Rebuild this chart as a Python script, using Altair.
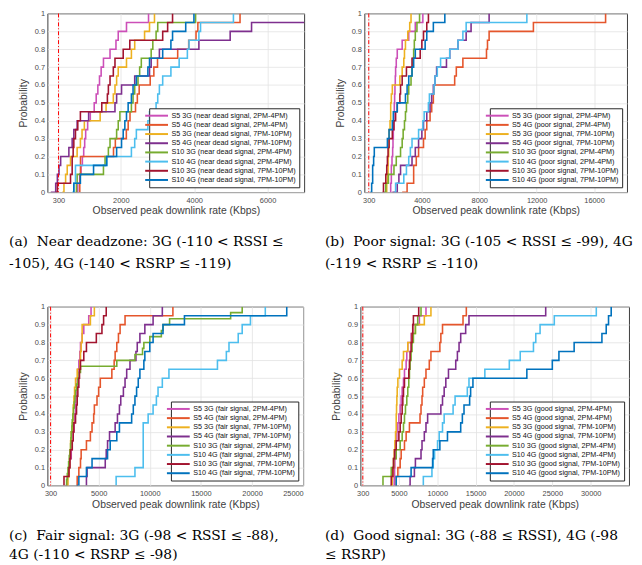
import altair as alt
import pandas as pd

# ---------------- data ----------------
levels = [0, 0.05, 0.1, 0.15, 0.2, 0.25, 0.3, 0.35, 0.4, 0.45, 0.5,
          0.55, 0.6, 0.65, 0.7, 0.75, 0.8, 0.85, 0.9, 0.95, 1]
levels_c_s10_3g_2 = [0, 0.033, 0.067, 0.1, 0.133, 0.167, 0.2, 0.233, 0.267, 0.3,
                     0.333, 0.367, 0.4, 0.433, 0.467, 0.5, 0.533, 0.567, 0.6, 0.633,
                     0.667, 0.7, 0.733, 0.767, 0.8, 0.833, 0.867, 0.9, 0.933, 0.967, 1]

series_names = ["S5 3G", "S5 4G", "S5 3G", "S5 4G", "S10 3G", "S10 4G", "S10 3G", "S10 4G"]
series_periods = ["2PM-4PM", "2PM-4PM", "7PM-10PM", "7PM-10PM",
                  "2PM-4PM", "2PM-4PM", "7PM-10PM", "7PM-10PM"]
series_colors = ["#CC4FB8", "#E5562C", "#EDB120", "#7E2F8E",
                 "#77AC30", "#4DBEEE", "#A2142F", "#0072BD"]

yticks = [0, 0.1, 0.2, 0.3, 0.4, 0.5, 0.6, 0.7, 0.8, 0.9, 1]
threshold = [300]

# (a) near dead signal
a_s5_3g_2 = [790, 826, 879, 915, 951, 987, 1014, 1041, 1095, 1167, 1274, 1328, 1373, 1418, 1463, 1526, 1705, 1867, 1929, 2154, 2755]
a_s5_4g_2 = [880, 880, 890, 900, 900, 1800, 1850, 2150, 2200, 2250, 2400, 2450, 2500, 2800, 2900, 3000, 3550, 3850, 4050, 4100, 5250]
a_s5_3g_7 = [404, 449, 494, 538, 628, 808, 897, 942, 1005, 1436, 1597, 1795, 1840, 1885, 1929, 2154, 2288, 2378, 2647, 2782, 2917]
a_s5_4g_7 = [90, 224, 269, 314, 359, 583, 673, 718, 808, 1122, 1840, 1885, 2019, 2378, 2782, 2827, 3051, 4128, 4981, 5564, 7600]
a_s10_3g_2 = [763, 790, 808, 1526, 1570, 1660, 1705, 1885, 1929, 1974, 2288, 2333, 2378, 2468, 2513, 2558, 2827, 2872, 2961, 3006, 4038]
a_s10_4g_2 = [673, 718, 763, 763, 1615, 2288, 2378, 2423, 2737, 2782, 2961, 3006, 3051, 3141, 3365, 3590, 3814, 3859, 4128, 4173, 5070]
a_s10_3g_7 = [224, 269, 628, 673, 673, 700, 718, 763, 826, 897, 1480, 1633, 1660, 1705, 1795, 1840, 2064, 2244, 3141, 3276, 3410]
a_s10_4g_7 = [700, 718, 897, 1256, 1615, 1885, 2019, 2064, 2109, 2154, 2199, 2288, 2333, 2423, 2737, 2782, 3141, 3365, 3410, 3769, 3993]

# (b) poor signal
b_s5_3g_2 = [1783, 1829, 1874, 1874, 1920, 1966, 1989, 2012, 2034, 2057, 2080, 2103, 2126, 2149, 2172, 2217, 2286, 2629, 3086, 3543, 4069]
b_s5_4g_2 = [2629, 2972, 3429, 3429, 3612, 3772, 4115, 4229, 4343, 4572, 4686, 4801, 4846, 6287, 6401, 6858, 8504, 8573, 8687, 11773, 16802]
b_s5_3g_7 = [1486, 1554, 1600, 1646, 1646, 1692, 1715, 1715, 1783, 1829, 1829, 1874, 1943, 2469, 2629, 2743, 2789, 2858, 3018, 3155, 3246]
b_s5_4g_7 = [1943, 2286, 2400, 2515, 3315, 3543, 3772, 4001, 4115, 4343, 4572, 4686, 4801, 4915, 5029, 5715, 5944, 6515, 7087, 7430, 8687]
b_s10_3g_2 = [1372, 1486, 1669, 2057, 2217, 2515, 2629, 2697, 2789, 2858, 2926, 3018, 3086, 3246, 3315, 3383, 3429, 3475, 3543, 3658, 3840]
b_s10_4g_2 = [2057, 2172, 2743, 2926, 3086, 3200, 3315, 3772, 4069, 4161, 4458, 4526, 4846, 4915, 5075, 5304, 5944, 6515, 6858, 7087, 11316]
b_s10_3g_7 = [1257, 1326, 1486, 1554, 1600, 1646, 1715, 1943, 2057, 2172, 2286, 2469, 2515, 2629, 2926, 3315, 3886, 4001, 4115, 4343, 4458]
b_s10_4g_7 = [411, 503, 572, 572, 640, 686, 1600, 1715, 1943, 2012, 2286, 2858, 2972, 3086, 3315, 3429, 3543, 4229, 4343, 4801, 5601]

# (c) fair signal
c_s5_3g_2 = [1774, 1936, 2097, 2194, 2323, 2420, 2516, 2581, 2645, 2742, 2774, 2839, 2903, 2968, 3065, 3161, 3226, 3387, 3549, 4033, 4258]
c_s5_4g_2 = [2839, 2903, 3065, 3226, 3290, 3807, 4194, 4355, 4516, 4581, 4839, 5000, 5162, 6291, 6517, 6613, 6775, 6936, 7097, 7581, 12259]
c_s5_3g_7 = [1936, 2000, 2097, 2161, 2194, 2258, 2323, 2420, 2484, 2516, 2581, 2645, 2742, 2903, 3161, 3226, 3290, 3387, 3387, 4194, 4581]
c_s5_4g_7 = [3807, 3807, 3871, 5646, 5742, 5871, 6065, 6613, 6839, 7033, 7162, 7420, 7581, 7742, 8065, 8646, 8775, 9033, 9517, 10323, 11226]
c_s10_3g_2 = [1774, 1871, 1936, 2000, 2065, 2129, 2194, 2258, 2290, 2323, 2387, 2420, 2484, 2548, 2613, 2678,
              2742, 2839, 2968, 3097, 3226, 6775, 8549, 9291, 9420, 10001, 11130, 11291, 11936, 17904, 19033]
c_s10_4g_2 = [6710, 6710, 8549, 9356, 9356, 9356, 9356, 9356, 9839, 10323, 10646, 10807, 11226, 11872, 16614, 17485, 17743, 18646, 19033, 19840, 21292]
c_s10_3g_7 = [1613, 1613, 2097, 2194, 2258, 2420, 2516, 2581, 2742, 2839, 2903, 2968, 3065, 3129, 3226, 3549, 3807, 4774, 5323, 5484, 5742]
c_s10_4g_7 = [2839, 3065, 3807, 4355, 5871, 6129, 6775, 7033, 8227, 8388, 8549, 8710, 8872, 9033, 9420, 9517, 10001, 10323, 11291, 13388, 23389]

# (d) good signal
d_s5_3g_2 = [4310, 4396, 4439, 4482, 4569, 4655, 4741, 4870, 5000, 5172, 5301, 5431, 5603, 5732, 5948, 6034, 6163, 6594, 6810, 7672, 8534]
d_s5_4g_2 = [4569, 4655, 4870, 5172, 5301, 5732, 5948, 6379, 7758, 7887, 8017, 8103, 8318, 8534, 8965, 9180, 10344, 10473, 10689, 13361, 13792]
d_s5_3g_7 = [4008, 4138, 4224, 4310, 4396, 4482, 4569, 4655, 4655, 4698, 4741, 4784, 4870, 5086, 5431, 5603, 6163, 6724, 7155, 8318, 9180]
d_s5_4g_7 = [6293, 6465, 7025, 7155, 7887, 8017, 8318, 8534, 8749, 10473, 10689, 10904, 11120, 11465, 12413, 12628, 12844, 13059, 13706, 14137, 24136]
d_s10_3g_2 = [2931, 2931, 4008, 4310, 4655, 5172, 5431, 5603, 5732, 5862, 6034, 6163, 6293, 6379, 6465, 6594, 6724, 6896, 7155, 7456, 7887]
d_s10_4g_2 = [8189, 8189, 9310, 9482, 9654, 10042, 10258, 10689, 10904, 12068, 12327, 13921, 14137, 16206, 19395, 20817, 22541, 22843, 23403, 25256, 30730]
d_s10_3g_7 = [3879, 4008, 4224, 4310, 4439, 4655, 5000, 5172, 5301, 5431, 5517, 5603, 5732, 6293, 6379, 6465, 6594, 6724, 6810, 6896, 7586]
d_s10_4g_7 = [4569, 4655, 6594, 9396, 9482, 10344, 11335, 13059, 13275, 13490, 14223, 14352, 14654, 21679, 24998, 25860, 27843, 31463, 32023, 32325, 32670]

xticks_a = [300, 1000, 2000, 3000, 4000, 5000, 6000, 7000]
xticks_b = [300, 4000, 8000, 12000, 16000]
xticks_c = [300, 5000, 10000, 15000, 20000, 25000]
xticks_d = [300, 5000, 10000, 15000, 20000, 25000, 30000]

caption_a = ["(a)\u00a0 Near deadzone: 3G (-110 < RSSI \u2264", "-105), 4G (-140 < RSRP \u2264 -119)"]
caption_b = ["(b)\u00a0 Poor signal: 3G (-105 < RSSI \u2264 -99), 4G", "(-119 < RSRP \u2264 -110)"]
caption_c = ["(c)\u00a0 Fair signal: 3G (-98 < RSSI \u2264 -88),", "4G (-110 < RSRP \u2264 -98)"]
caption_d = ["(d)\u00a0 Good signal: 3G (-88 \u2264 RSSI), 4G (-98", "\u2264 RSRP)"]

SANS = "Liberation Sans"
SERIF = "DejaVu Serif"


def panel(series_x, series_levels, cond, xmax, xticks, width, caption, dx, offset, line_h):
    labels = [f"{n} ({cond} signal, {p})" for n, p in zip(series_names, series_periods)]
    rows = []
    for lab, xs, lv in zip(labels, series_x, series_levels):
        for k, (x, p) in enumerate(zip(xs, lv)):
            rows.append({"series": lab, "x": x, "p": p, "k": k})
    df = pd.DataFrame(rows)

    xscale = alt.Scale(domain=[0, xmax], nice=False, zero=False)
    lines = alt.Chart(df).mark_line(interpolate="step-after", clip=True, strokeWidth=1.6).encode(
        x=alt.X("x:Q", scale=xscale,
                axis=alt.Axis(values=xticks, format="d", title="Observed peak downlink rate (Kbps)",
                              labelPadding=4, minExtent=12, maxExtent=12, titlePadding=2)),
        y=alt.Y("p:Q", scale=alt.Scale(domain=[0, 1], nice=False),
                axis=alt.Axis(values=yticks, format="~g", title="Probability",
                              labelPadding=3, minExtent=14, maxExtent=14, titlePadding=5)),
        color=alt.Color("series:N", scale=alt.Scale(domain=labels, range=series_colors),
                        legend=alt.Legend(orient="bottom-right", offset=5, title=None,
                                          symbolType="M-3.3,0H3.3", symbolStrokeWidth=2, symbolSize=49,
                                          labelOffset=10.5,
                                          labelFontSize=7.3, labelFont=SANS, labelColor="#111111",
                                          labelLimit=0, rowPadding=0.3, padding=3,
                                          fillColor="white", strokeColor="#262626")),
        order="k:Q",
    )
    rule = alt.Chart(pd.DataFrame({"x": threshold})).mark_rule(
        color="#ff0000", strokeDash=[4, 2, 1, 2], strokeWidth=1).encode(x=alt.X("x:Q", scale=xscale))
    return alt.layer(lines, rule).properties(
        width=width, height=181,
        title=alt.TitleParams(text=caption, orient="bottom", anchor="start", frame="group",
                              dx=dx, offset=offset, font=SERIF, fontSize=14, fontWeight="normal",
                              color="black", lineHeight=line_h),
    )


pa = panel([a_s5_3g_2, a_s5_4g_2, a_s5_3g_7, a_s5_4g_7, a_s10_3g_2, a_s10_4g_2, a_s10_3g_7, a_s10_4g_7],
           [levels] * 8, "near dead", 7000, xticks_a, 260, caption_a, -39, 19.4, 21.5)
pb = panel([b_s5_3g_2, b_s5_4g_2, b_s5_3g_7, b_s5_4g_7, b_s10_3g_2, b_s10_4g_2, b_s10_3g_7, b_s10_4g_7],
           [levels] * 8, "poor", 18300, xticks_b, 266, caption_b, -40, 19.4, 21.5)
pc = panel([c_s5_3g_2, c_s5_4g_2, c_s5_3g_7, c_s5_4g_7, c_s10_3g_2, c_s10_4g_2, c_s10_3g_7, c_s10_4g_7],
           [levels, levels, levels, levels, levels_c_s10_3g_2, levels, levels, levels],
           "fair", 25000, xticks_c, 259, caption_c, -39, 20, 19)
pd_ = panel([d_s5_3g_2, d_s5_4g_2, d_s5_3g_7, d_s5_4g_7, d_s10_3g_2, d_s10_4g_2, d_s10_3g_7, d_s10_4g_7],
            [levels] * 8, "good", 35000, xticks_d, 272, caption_d, -36, 20, 19)

row1 = alt.hconcat(pa, pb, spacing=61, bounds="flush").resolve_scale(
    color="independent", x="independent", y="independent")
row2 = alt.hconcat(pc, pd_, spacing=58, bounds="flush").resolve_scale(
    color="independent", x="independent", y="independent")

chart = alt.vconcat(row1, row2, spacing=31).resolve_scale(
    color="independent", x="independent", y="independent"
).properties(padding={"left": 0, "top": -3, "right": 0, "bottom": 0}, background="white").configure_axis(
    labelFont=SANS, labelFontSize=7.5, labelColor="#4a4a4a",
    titleFont=SANS, titleFontSize=10.5, titleFontWeight="normal", titleColor="#404040",
    grid=True, gridColor="#e2e2e2", gridWidth=0.8, domain=False, ticks=False, tickSize=0,
).configure_view(stroke="#262626", strokeWidth=0.9)

chart.save("out.html", embed_options={"renderer": "svg", "actions": False})
